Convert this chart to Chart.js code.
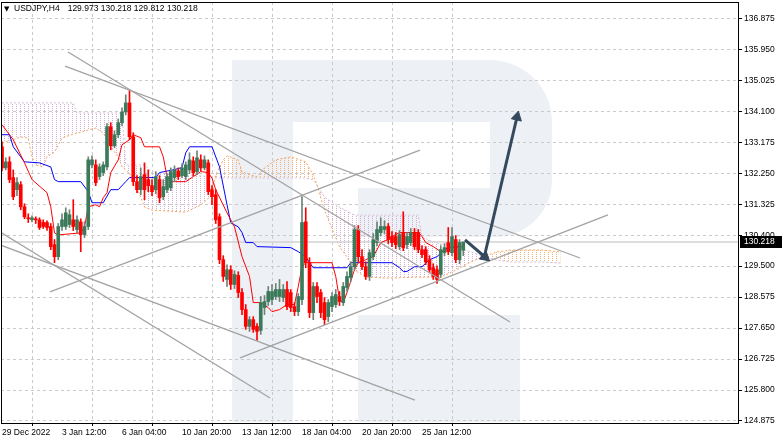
<!DOCTYPE html>
<html><head><meta charset="utf-8">
<script src="https://cdn.jsdelivr.net/npm/chart.js@4.4.0/dist/chart.umd.min.js"></script>
<style>html,body{margin:0;padding:0;background:#fff;overflow:hidden}canvas{display:block}</style>
</head><body>
<canvas id="c" width="782" height="442"></canvas>
<script>
const symbolTitle = 'USDJPY,H4';
const lastOHLC = ['129.973', '130.218', '129.812', '130.218'];
const xTickIdx = [0, 16, 32, 48, 64, 80, 96, 112];
const xTickLabels = ['29 Dec 2022', '3 Jan 12:00', '6 Jan 04:00', '10 Jan 20:00', '13 Jan 12:00', '18 Jan 04:00', '20 Jan 20:00', '25 Jan 12:00'];
const yTickLabels = ['136.875', '135.950', '135.025', '134.100', '133.175', '132.250', '131.325', '130.400', '129.500', '128.575', '127.650', '126.725', '125.800', '124.875'];

// H4 candles, one per bar index 0..123
const openP = [
133.06,132.43,132.61,132.14,131.78,131.93,131.27,130.94,130.88,130.91,
130.88,130.80,130.80,130.68,130.14,129.78,130.68,130.68,130.74,130.88,
130.59,130.82,130.44,130.68,132.52,132.52,132.17,132.29,132.46,133.66,
133.09,133.42,133.78,134.10,134.37,133.36,132.02,131.78,132.23,132.08,
131.90,131.78,132.08,131.57,131.78,131.84,132.14,132.34,132.20,132.17,
132.37,132.64,132.32,132.67,132.43,132.58,131.78,131.63,130.97,129.69,
129.10,129.39,128.95,129.22,128.71,128.20,127.70,127.90,127.70,127.58,
128.26,128.44,128.50,128.59,128.59,128.56,128.80,128.71,128.29,128.14,
128.50,130.82,129.60,128.11,128.89,128.71,128.41,127.99,128.29,128.35,
128.59,128.41,128.86,129.16,129.48,130.59,129.78,129.48,129.19,129.78,
130.20,130.50,130.59,130.68,130.38,130.38,130.08,130.50,130.14,130.20,
130.50,130.50,129.99,129.99,129.69,129.45,129.39,129.25,129.90,130.20,
129.90,130.29,129.69,129.973];
const highP = [
133.21,132.73,132.76,132.37,132.14,132.02,131.36,131.06,131.00,130.97,
130.94,130.88,130.85,130.77,130.29,130.77,131.06,131.24,131.18,131.48,
131.00,130.91,130.82,132.76,132.79,132.67,132.55,132.61,133.75,133.78,
133.54,133.89,134.22,134.61,134.76,133.48,132.20,132.43,132.58,132.37,
132.08,132.32,132.20,132.08,132.26,132.43,132.49,132.43,132.55,132.61,
132.88,132.76,132.94,132.82,132.79,132.67,131.90,131.78,131.06,129.81,
129.54,129.51,129.36,129.33,128.83,128.35,127.99,127.99,127.78,128.59,
128.62,128.89,128.95,128.98,129.10,128.95,129.04,128.80,128.41,128.68,
131.57,131.24,129.75,129.01,129.01,128.80,128.56,128.50,128.71,128.80,
128.74,129.01,129.33,129.63,130.71,130.71,129.99,129.63,129.99,130.47,
130.82,130.94,130.85,130.77,130.53,130.50,130.56,131.12,130.50,130.62,
130.62,130.59,130.11,130.08,129.81,129.57,129.51,130.11,130.17,130.65,
130.65,130.41,130.29,130.218];
const lowP = [
132.34,132.37,131.99,131.48,131.60,131.18,130.91,130.80,130.82,130.77,
130.59,130.62,130.56,129.99,129.60,129.69,130.56,130.59,130.65,130.56,
130.50,129.93,130.35,130.59,132.43,131.90,132.08,132.20,132.37,132.97,
133.03,133.33,133.69,134.01,133.27,131.90,131.69,131.63,131.48,131.72,
131.60,131.66,131.39,131.48,131.69,131.75,132.02,132.08,132.14,132.08,
132.26,132.20,132.23,132.34,132.37,131.63,131.33,130.77,129.57,129.04,
128.89,128.80,128.83,128.56,128.05,127.61,127.55,127.52,127.28,127.46,
128.05,128.32,128.35,128.50,128.44,128.44,128.20,128.14,128.02,128.02,
128.35,129.45,127.96,127.90,128.41,127.96,127.75,127.84,128.14,128.26,
128.32,128.32,128.74,129.04,129.39,129.63,129.39,129.10,129.07,129.69,
130.11,130.41,130.47,130.17,130.08,130.02,129.99,129.96,130.02,130.11,
129.99,129.90,129.75,129.54,129.30,129.10,128.98,129.16,129.81,129.84,
129.81,129.60,129.57,129.812];
const closeP = [
132.43,132.61,132.08,131.57,131.99,131.27,130.97,130.91,130.94,130.88,
130.65,130.68,130.65,130.08,129.78,130.68,130.88,131.09,131.03,130.68,
130.88,130.44,130.68,132.67,132.67,131.99,132.46,132.52,133.66,133.09,
133.42,133.78,134.10,134.37,133.36,132.02,131.78,132.17,131.78,131.90,
131.72,132.17,131.54,131.87,132.17,132.32,132.37,132.17,132.43,132.52,
132.67,132.29,132.73,132.43,132.67,131.72,131.57,130.88,129.69,129.19,
129.39,128.95,129.25,128.71,128.20,127.70,127.90,127.61,127.55,128.41,
128.44,128.74,128.74,128.80,128.80,128.80,128.29,128.26,128.14,128.59,
130.80,129.60,128.11,128.89,128.59,128.11,127.90,128.41,128.59,128.65,
128.44,128.89,129.19,129.48,130.59,129.78,129.48,129.19,129.90,130.29,
130.59,130.68,130.68,130.29,130.20,130.14,130.44,130.05,130.38,130.50,
130.08,129.99,129.84,129.63,129.39,129.19,129.10,129.99,130.05,129.93,
130.38,129.69,130.20,130.218];

// Ichimoku: Tenkan-sen (red) and Kijun-sen (blue)
const tenkanX = [0,3,6,8,12,13,14,15,21,22,23,25,26,27,28,29,31,32,34,35,37,38,42,43,44,45,49,51,53,55,56,57,60,62,64,66,67,69,71,72,74,76,78,79,80,81,88,89,90,91,92,94,95,97,99,101,103,104,106,111,112,113,115,117,119,120,123];
const tenkanY = [133.72,133.27,132.58,132.08,131.69,131.27,130.49,130.43,130.49,130.67,131.27,131.33,131.27,131.54,131.69,132.29,132.67,133.12,133.27,133.42,133.33,133.06,133.06,132.76,132.17,132.02,132.02,132.17,132.32,132.29,132.12,131.78,131.09,130.67,129.78,129.19,128.41,128.41,128.26,128.14,128.20,128.35,128.35,128.89,129.48,129.60,129.60,129.19,128.50,128.41,128.71,129.39,129.60,129.69,129.78,130.20,130.29,130.38,130.50,130.50,130.38,130.20,130.08,129.93,129.99,130.08,130.08];
const kijunX = [0,2,3,5,6,10,13,14,15,21,23,24,27,29,31,33,34,41,42,46,48,49,50,56,58,60,61,63,64,65,67,68,77,79,81,82,83,92,93,104,106,107,108,110,112,114,116,118,119,123];
const kijunY = [133.42,133.42,133.06,132.76,132.61,132.58,132.46,132.08,132.02,132.02,131.72,131.39,131.39,131.78,131.78,132.02,132.14,132.14,132.29,132.38,132.44,132.88,133.06,133.06,132.46,131.33,130.79,130.67,130.50,130.20,130.20,130.08,130.05,129.93,129.78,129.60,129.45,129.45,129.60,129.60,129.45,129.34,129.34,129.48,129.48,129.69,129.78,129.99,130.05,130.08];
// Ichimoku cloud: Senkou Span A (sandy brown) and Span B (thistle)
const cloudX = [0,5,7,8,9,11,12,14,16,19,20,23,25,27,29,31,32,33,35,38,40,49,53,56,57,59,60,63,64,68,70,73,77,81,83,84,86,90,92,94,97,103,111,112,115,117,121,125,128,132,136,144,149];
const spanA = [133.17,133.35,133.32,132.76,132.52,132.46,132.76,132.90,133.32,133.44,133.47,133.56,133.62,133.47,133.05,132.76,132.46,132.37,132.13,131.26,131.17,131.11,131.32,131.62,132.22,132.67,132.79,132.67,132.31,132.16,132.43,132.67,132.76,132.61,132.22,131.92,131.17,130.07,129.77,129.38,129.17,129.14,129.17,129.17,129.17,129.17,129.38,129.62,129.77,129.92,129.98,129.98,129.92];
const spanB = [134.37,134.37,134.37,134.37,134.37,134.37,134.37,134.37,134.37,134.37,134.07,134.07,134.07,134.07,134.07,134.07,134.07,132.52,132.52,132.52,132.28,132.22,132.19,132.16,132.13,132.13,132.13,132.13,132.13,132.13,132.13,132.13,132.13,132.13,132.07,131.92,131.56,131.26,131.14,131.02,131.02,131.02,131.02,130.37,130.22,130.16,130.07,129.92,129.80,129.68,129.62,129.62,129.59];

// Drawn objects: trend lines [[barIndex, price], [barIndex, price]]
const lineA = [[17.6, 135.89], [135.47, 127.83]];
const lineB = [[16.8, 135.47], [154.13, 129.74]];
const lineC = [[-0.53, 130.52], [71.47, 125.56]];
const lineD = [[-0.53, 130.13], [110.13, 125.50]];
const lineE = [[12.8, 128.73], [111.47, 132.96]];
const lineF = [[63.47, 126.76], [161.6, 131.03]];
const arrow1 = [[123.47, 130.28], [128.8, 129.77]];
const arrow2 = [[128.53, 129.74], [137.33, 133.95]];

const canvas = document.getElementById('c');
const ctx0 = canvas.getContext('2d');
function hatch(color) {
  const c = document.createElement('canvas');
  c.width = 4; c.height = 2;
  const g = c.getContext('2d');
  g.fillStyle = color; g.fillRect(0, 0, 1, 1);
  return ctx0.createPattern(c, 'repeat');
}
const patOrange = hatch('rgb(245,178,120)');
const patThistle = hatch('rgb(212,175,212)');

const idx = closeP.map((_, i) => i);
const up = idx.map(i => closeP[i] >= openP[i]);
const currentPrice = closeP[closeP.length - 1];

const FONT = 'Liberation Sans';
function seg(pts, color, width, order) {
  return { type: 'line', data: pts.map(p => ({ x: p[0], y: p[1] })), borderColor: color, borderWidth: width, pointRadius: 0, fill: false, order: order };
}
function arrowSet(pts) {
  const d = seg(pts, '#34495e', 3, 1);
  d.pointRadius = [0, 6];
  d.pointStyle = 'triangle';
  d.pointBackgroundColor = '#34495e';
  d.pointBorderColor = '#34495e';
  d.pointBorderWidth = 1;
  d.pointRotation = (c) => {
    const xs = c.chart.scales.x, ys = c.chart.scales.y;
    if (!xs || !ys) return 0;
    const dx = xs.getPixelForValue(pts[1][0]) - xs.getPixelForValue(pts[0][0]);
    const dy = ys.getPixelForValue(pts[1][1]) - ys.getPixelForValue(pts[0][1]);
    return Math.atan2(dx, -dy) * 180 / Math.PI;
  };
  return d;
}

const decor = {
  id: 'decor',
  beforeDraw(chart) {
    const c = chart.ctx;
    c.save();
    c.fillStyle = '#fff';
    c.fillRect(0, 0, chart.width, chart.height);
    // faint logo watermark
    c.fillStyle = '#edf0f5';
    c.fillRect(232, 60, 61, 362);
    c.beginPath();
    c.moveTo(232, 60); c.lineTo(490, 60);
    c.arcTo(552, 60, 552, 122, 62); c.lineTo(552, 180);
    c.arcTo(552, 237, 495, 237, 57);
    c.lineTo(358, 237); c.lineTo(358, 188); c.lineTo(490, 188); c.lineTo(490, 122); c.lineTo(232, 122);
    c.closePath(); c.fill();
    c.fillRect(358, 315, 162, 107);
    c.restore();
  },
  afterDraw(chart) {
    const c = chart.ctx, a = chart.chartArea;
    c.save();
    c.strokeStyle = '#000'; c.lineWidth = 1;
    c.strokeRect(a.left + 0.5, a.top + 0.5, a.right - a.left - 1, a.bottom - a.top);
    // header
    c.fillStyle = '#000'; c.textBaseline = 'middle';
    c.font = '7px "DejaVu Sans"';
    c.fillText('\u25BC', 4, 9);
    c.font = '8.5px "' + FONT + '"';
    c.fillText(symbolTitle, 14, 9);
    const x0 = 14 + c.measureText(symbolTitle).width + 8;
    c.fillText(lastOHLC.join(' '), x0, 9);
    // current price label
    const y = chart.scales.y.getPixelForValue(currentPrice);
    c.fillStyle = '#000';
    c.fillRect(740, Math.round(y) - 6, 42, 12);
    c.fillStyle = '#fff';
    c.fillText(currentPrice.toFixed(3), 744, Math.round(y));
    c.restore();
  }
};

new Chart(canvas, {
  type: 'bar',
  data: {
    datasets: [
      arrowSet(arrow1),
      arrowSet(arrow2),
      seg(lineA, '#a3a3a3', 1.3, 2),
      seg(lineB, '#a3a3a3', 1.3, 2),
      seg(lineC, '#a3a3a3', 1.3, 2),
      seg(lineD, '#a3a3a3', 1.3, 2),
      seg(lineE, '#a3a3a3', 1.3, 2),
      seg(lineF, '#a3a3a3', 1.3, 2),
      { type: 'bar', data: idx.map(i => ({ x: i, y: [openP[i], closeP[i]] })), backgroundColor: idx.map(i => up[i] ? '#3a7a5a' : '#ff0000'), barThickness: 3, minBarLength: 1, grouped: false, borderWidth: 0, order: 3 },
      { type: 'bar', data: idx.map(i => ({ x: i, y: [lowP[i], highP[i]] })), backgroundColor: idx.map(i => up[i] ? '#6d8479' : '#ff0000'), barThickness: 1, grouped: false, borderWidth: 0, order: 4 },
      { type: 'line', data: tenkanX.map((x, i) => ({ x, y: tenkanY[i] })), borderColor: '#ff0000', borderWidth: 1, pointRadius: 0, fill: false, order: 5 },
      { type: 'line', data: kijunX.map((x, i) => ({ x, y: kijunY[i] })), borderColor: '#0000ff', borderWidth: 1, pointRadius: 0, fill: false, order: 5 },
      { type: 'line', data: [{ x: -1, y: currentPrice }, { x: 200, y: currentPrice }], borderColor: '#d2d2d2', borderWidth: 1.5, pointRadius: 0, fill: false, order: 6 },
      { type: 'line', data: cloudX.map((x, i) => ({ x, y: spanA[i] })), borderColor: '#f4a460', borderWidth: 1, borderDash: [2, 2], pointRadius: 0, order: 7,
        fill: { target: '+1', above: patOrange, below: patThistle } },
      { type: 'line', data: cloudX.map((x, i) => ({ x, y: spanB[i] })), borderColor: '#d8bfd8', borderWidth: 1, borderDash: [2, 2], pointRadius: 0, fill: false, order: 8 }
    ]
  },
  options: {
    responsive: false,
    animation: false,
    devicePixelRatio: 1,
    events: [],
    layout: { autoPadding: false, padding: { left: 1, top: 2, right: 0, bottom: 0 } },
    plugins: { legend: { display: false }, tooltip: { enabled: false } },
    scales: {
      x: {
        type: 'linear', position: 'bottom', min: -0.267, max: 196.53, offset: false,
        grid: { color: '#cacaca', lineWidth: 1, drawTicks: true, tickLength: 3, tickColor: '#000', tickBorderDash: [] },
        border: { display: false, dash: [3, 3] },
        ticks: { autoSkip: false, maxRotation: 0, minRotation: 0, align: 'start', padding: 2, color: '#000', font: { family: FONT, size: 8.5 },
          callback: (v, i) => xTickLabels[i] },
        afterBuildTicks: s => { s.ticks = xTickIdx.map(v => ({ value: v })); },
        afterFit: s => { s.height = 19; s.paddingLeft = 0; s.paddingRight = 0; }
      },
      y: {
        type: 'linear', position: 'right', min: 124.815, max: 137.382,
        grid: { color: '#cacaca', lineWidth: 1, drawTicks: true, tickLength: 3, tickColor: '#000', tickBorderDash: [] },
        border: { display: false, dash: [3, 3] },
        ticks: { autoSkip: false, padding: 2, color: '#000', font: { family: FONT, size: 8.5 },
          callback: (v, i) => yTickLabels[i] },
        afterBuildTicks: s => { s.ticks = yTickLabels.map(t => ({ value: parseFloat(t) })); },
        afterFit: s => { s.width = 43; s.paddingTop = 0; s.paddingBottom = 0; }
      }
    }
  },
  plugins: [decor]
});
</script>
</body></html>
